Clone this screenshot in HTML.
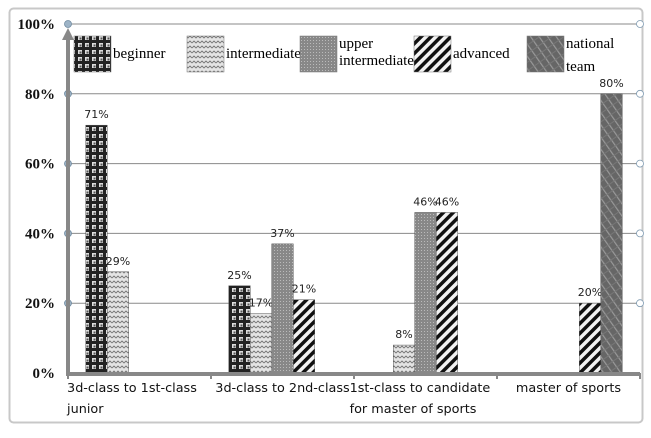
<!DOCTYPE html>
<html><head><meta charset="utf-8"><style>
html,body{margin:0;padding:0;background:#fff;width:651px;height:438px;overflow:hidden}
svg{display:block}
.tick{font-family:"Liberation Serif",serif;font-weight:bold;font-size:15px;fill:#111}
.leg{font-family:"Liberation Serif",serif;font-size:15px;fill:#000}
.val{font-family:"DejaVu Sans","Liberation Sans",sans-serif;font-size:11px;fill:#222}
.cat{font-family:"DejaVu Sans","Liberation Sans",sans-serif;font-size:12.8px;fill:#111}
</style></head><body>
<svg id="chart" width="651" height="438" viewBox="0 0 651 438" xmlns="http://www.w3.org/2000/svg">
<defs>
<pattern id="p0" width="7" height="7" patternUnits="userSpaceOnUse"><rect width="7" height="7" fill="#222"/><rect x="1" y="1" width="4" height="4" fill="#ddd"/><rect x="2.5" y="2.5" width="2" height="2" fill="#555"/></pattern>
<pattern id="p1" width="8" height="5" patternUnits="userSpaceOnUse"><rect width="8" height="5" fill="#e4e4e4"/><path d="M0 3 L2 1 L4 3 L6 1 L8 3" stroke="#777" stroke-width="0.9" fill="none"/></pattern>
<pattern id="p2" width="3" height="3" patternUnits="userSpaceOnUse"><rect width="3" height="3" fill="#888"/><rect x="1" y="1" width="1" height="1" fill="#bbb"/></pattern>
<pattern id="p3" width="7" height="7" patternUnits="userSpaceOnUse" patternTransform="rotate(45)"><rect width="7" height="7" fill="#f2f2f2"/><rect width="3.5" height="7" fill="#111"/></pattern>
<pattern id="p4" width="7" height="7" patternUnits="userSpaceOnUse" patternTransform="rotate(-35)"><rect width="7" height="7" fill="#666"/><rect width="1.2" height="7" fill="#999"/><rect y="3" width="7" height="1" fill="#777"/></pattern>
</defs>
<rect x="9.5" y="8.5" width="633" height="414" rx="4" fill="#fff" stroke="#c8c8c8" stroke-width="2"/>
<g id="grid"></g>
<g id="bars"></g>
<g id="axes"></g>
<g id="legend"></g>
</svg>
<script>
const categories = [["3d-class to 1st-class","junior"],["3d-class to 2nd-class"],["1st-class to candidate","for master of sports"],["master of sports"]];
const seriesNames = ["beginner","intermediate","upper intermediate","advanced","national team"];
const beginner = [71,25,null,null];
const intermediate = [29,17,8,null];
const upperIntermediate = [null,37,46,null];
const advanced = [null,21,46,20];
const nationalTeam = [null,null,null,80];
const yTicks = [0,20,40,60,80,100];
const yTickLabels = ["0%","20%","40%","60%","80%","100%"];

const series = [beginner,intermediate,upperIntermediate,advanced,nationalTeam];
const NS="http://www.w3.org/2000/svg";
const X0=68,X1=640,Y0=373,Y1=24,BW=21.5;
const y = v => Y0 - (v/100)*(Y0-Y1);
const catW=(X1-X0)/categories.length;
const cx = i => X0 + catW*(i+0.5);
const bx = (i,s) => cx(i) - BW*series.length/2 + BW*s;
function mk(tag,attrs,parent){const e=document.createElementNS(NS,tag);for(const k in attrs)e.setAttribute(k,attrs[k]);parent.appendChild(e);return e;}
const grid=document.getElementById('grid'),bars=document.getElementById('bars'),axes=document.getElementById('axes'),legend=document.getElementById('legend');

yTicks.forEach((t,i)=>{
  const l=mk('line',{x1:X0,x2:X1,y1:y(t),y2:y(t),stroke:'#8a8a8a','stroke-width':1},grid);
  
  
  const tx=mk('text',{x:X0-13,y:y(t)+5,'text-anchor':'end',class:'tick'},axes);
  tx.textContent=yTickLabels[i];
  
  
  if(t>0){
    const c1=mk('circle',{cx:X0,cy:y(t),r:3.5,fill:'#9db3c6',stroke:'#6f8aa0','stroke-width':0.8},axes);
    
    
    const c2=mk('circle',{cx:X1,cy:y(t),r:3.5,fill:'#fff',stroke:'#7f9bb2','stroke-width':0.8},axes);
    
    
  }
});
const xl=mk('line',{x1:X0,x2:X1,y1:Y0+1,y2:Y0+1,stroke:'#888','stroke-width':4},axes);


const yl=mk('line',{x1:X0,x2:X0,y1:Y0+3,y2:Y1+14,stroke:'#888','stroke-width':4},axes);


const ar=mk('path',{d:`M${X0-6} ${Y1+16} L${X0} ${Y1+4} L${X0+6} ${Y1+16} Z`,fill:'#888'},axes);


for(let i=0;i<=categories.length;i++){
  const tk=mk('line',{x1:X0+catW*i,x2:X0+catW*i,y1:Y0,y2:Y0+6,stroke:'#888','stroke-width':2},axes);
  
  
}
categories.forEach((lines,i)=>{
  const t=mk('text',{x:cx(i),y:Y0+19,class:'cat','text-anchor':'middle'},axes);
  
  
  lines.forEach((ln,j)=>{const s=mk('tspan',{x:cx(i),dy:j?21:0},t);s.textContent=ln;});
  if(lines.length>1){
    t.setAttribute('text-anchor','start');
    const w=lines[0].length*6.9;
    t.querySelectorAll('tspan').forEach(s=>s.setAttribute('x',cx(i)-w/2));
  }
});
series.forEach((arr,s)=>{
  arr.forEach((v,i)=>{
    if(v==null) return;
    const r=mk('rect',{x:bx(i,s),y:y(v),width:BW,height:Y0-y(v),fill:`url(#p${s})`,stroke:'#555','stroke-width':0.5},bars);
    
    
    const t=mk('text',{x:bx(i,s)+BW/2,y:y(v)-7,'text-anchor':'middle',class:'val'},bars);
    t.textContent=v+'%';
    
    
  });
});
const legX=[74,187,300,414,527];
seriesNames.forEach((n,s)=>{
  const g=mk('g',{},legend);
  
  
  mk('rect',{x:legX[s],y:36,width:37,height:36,fill:`url(#p${s})`,stroke:'#777','stroke-width':0.5},g);
  const words=n.split(' ');
  const t=mk('text',{x:legX[s]+39,y:words.length>1?48:58,class:'leg'},g);
  words.forEach((w,j)=>{const sp=mk('tspan',{x:legX[s]+39,dy:j?(s==4?23:17):0},t);sp.textContent=w;});
});
</script>
</body></html>
